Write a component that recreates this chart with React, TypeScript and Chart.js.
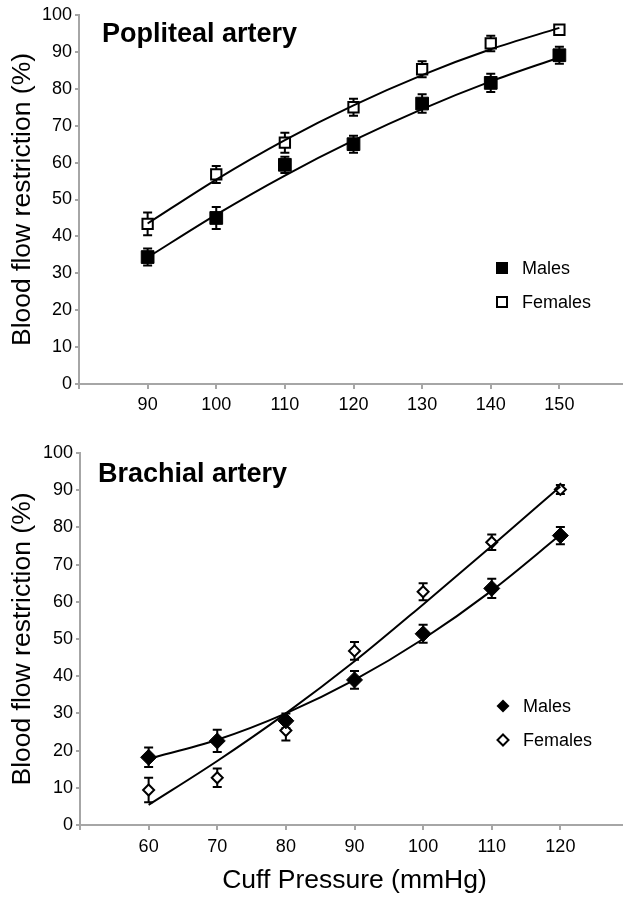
import { useEffect, useRef } from "react";
import { Chart, registerables } from "chart.js";

Chart.register(...registerables);

const FONT = "'Liberation Sans', Arial, Helvetica, sans-serif";
const AXIS_GREY = "#a6a6a6";
const CANVAS_W = 638;

// ---------- Popliteal artery ----------
const popPressure = [90, 100, 110, 120, 130, 140, 150];
const popTickLabels = ["90", "100", "110", "120", "130", "140", "150"];
const popMales = [34.4, 45, 59.4, 65, 76, 81.6, 89.1];
const popMalesErr = [2.3, 3.0, 2.2, 2.3, 2.5, 2.5, 2.3];
const popFemales = [43.4, 56.8, 65.4, 75, 85.3, 92.3, 96];
const popFemalesErr = [3.1, 2.3, 2.7, 2.3, 2.2, 2.1, 1.2];
const popMalesFit = [34.3, 45.9, 56.5, 66, 74.5, 82, 88.5];
const popFemalesFit = [43.5, 55.4, 66.1, 75.5, 83.7, 90.7, 96.5];

// ---------- Brachial artery ----------
const brPressure = [60, 70, 80, 90, 100, 110, 120];
const brTickLabels = ["60", "70", "80", "90", "100", "110", "120"];
const brMales = [18.2, 22.6, 28, 39, 51.4, 63.6, 77.8];
const brMalesErr = [2.6, 3.0, 2.0, 2.4, 2.4, 2.6, 2.3];
const brFemales = [9.4, 12.7, 25.4, 46.8, 62.7, 76, 90.2];
const brFemalesErr = [3.3, 2.5, 2.7, 2.4, 2.3, 2.1, 1.2];
const brMalesFit = [17.8, 22.9, 30, 39, 50, 63, 78];
const brFemalesFit = [5.4, 17.2, 30, 44, 59.3, 75, 91];

const legendLabels = ["Males", "Females"];
const yAxisTitle = "Blood flow restriction (%)";
const xAxisTitle = "Cuff Pressure (mmHg)";

type Shape = "rect" | "rectRot";

interface PanelCfg {
  title: string;
  titleDx: number;
  titleDy: number;
  pressure: number[];
  tickLabels: string[];
  males: number[];
  malesErr: number[];
  females: number[];
  femalesErr: number[];
  malesFit: number[];
  femalesFit: number[];
  shape: Shape;
  height: number;
  padTop: number;
  yWidth: number;
  xHeight: number;
  xTickPad: number;
  xTitle: string | null;
}

function drawMarker(ctx: CanvasRenderingContext2D, shape: Shape, filled: boolean, x: number, y: number) {
  ctx.save();
  ctx.fillStyle = "#000";
  ctx.strokeStyle = "#000";
  ctx.lineWidth = 2;
  if (shape === "rect") {
    if (filled) ctx.fillRect(x - 6, y - 6, 12, 12);
    else ctx.strokeRect(x - 5, y - 5, 10, 10);
  } else {
    const h = filled ? 6.5 : 5.5;
    ctx.beginPath();
    ctx.moveTo(x, y - h);
    ctx.lineTo(x + h, y);
    ctx.lineTo(x, y + h);
    ctx.lineTo(x - h, y);
    ctx.closePath();
    if (filled) ctx.fill();
    else {
      ctx.fillStyle = "#fff";
      ctx.fill();
      ctx.stroke();
    }
  }
  ctx.restore();
}

function makePlugins(cfg: PanelCfg) {
  const errorBars = {
    id: "errorBars",
    beforeDatasetsDraw(chart: any) {
      const { ctx } = chart;
      const xs = chart.scales.x;
      const ys = chart.scales.y;
      chart.data.datasets.forEach((ds: any) => {
        if (!ds.errors) return;
        ctx.save();
        ctx.strokeStyle = "#000";
        ctx.lineWidth = 2;
        ds.data.forEach((p: any, j: number) => {
          const e = ds.errors[j];
          const x = xs.getPixelForValue(p.x);
          const y1 = ys.getPixelForValue(p.y + e);
          const y2 = ys.getPixelForValue(p.y - e);
          ctx.beginPath();
          ctx.moveTo(x, y1);
          ctx.lineTo(x, y2);
          ctx.moveTo(x - 4.5, y1);
          ctx.lineTo(x + 4.5, y1);
          ctx.moveTo(x - 4.5, y2);
          ctx.lineTo(x + 4.5, y2);
          ctx.stroke();
        });
        ctx.restore();
      });
    },
  };
  const panelText = {
    id: "panelText",
    afterDraw(chart: any) {
      const { ctx, chartArea } = chart;
      ctx.save();
      ctx.fillStyle = "#000";
      ctx.font = `bold 27px ${FONT}`;
      ctx.textAlign = "left";
      ctx.textBaseline = "alphabetic";
      ctx.fillText(cfg.title, chartArea.left + cfg.titleDx, chartArea.top + cfg.titleDy);
      // legend
      const lx = chartArea.left + 423;
      const ly = chartArea.top + 253;
      ctx.font = `18px ${FONT}`;
      ctx.textBaseline = "middle";
      legendLabels.forEach((lab, i) => {
        const y = ly + i * 34;
        drawMarker(ctx, cfg.shape, i === 0, lx, y);
        ctx.fillStyle = "#000";
        ctx.fillText(lab, lx + 20, y + 1);
      });
      ctx.restore();
    },
  };
  return [errorBars, panelText];
}

function buildConfig(cfg: PanelCfg): any {
  const pts = (vals: number[]) => cfg.pressure.map((x, i) => ({ x, y: vals[i] }));
  const fitDs = (vals: number[]) => ({
    type: "line",
    data: pts(vals),
    showLine: true,
    borderColor: "#000",
    borderWidth: 2,
    pointRadius: 0,
    fill: false,
    cubicInterpolationMode: "monotone",
    order: 0,
  });
  const isRect = cfg.shape === "rect";
  return {
    type: "scatter",
    data: {
      datasets: [
        fitDs(cfg.malesFit),
        fitDs(cfg.femalesFit),
        {
          label: legendLabels[0],
          data: pts(cfg.males),
          errors: cfg.malesErr,
          showLine: false,
          pointStyle: cfg.shape,
          pointRadius: isRect ? 9 : 8,
          backgroundColor: "#000",
          borderColor: "#000",
          borderWidth: 1,
          order: 1,
        },
        {
          label: legendLabels[1],
          data: pts(cfg.females),
          errors: cfg.femalesErr,
          showLine: false,
          pointStyle: cfg.shape,
          pointRadius: isRect ? 7.3 : 5.5,
          backgroundColor: "#fff",
          borderColor: "#000",
          borderWidth: 2,
          order: 1,
        },
      ],
    },
    options: {
      animation: false,
      responsive: false,
      events: [],
      layout: { padding: { top: cfg.padTop, left: 0, right: 0, bottom: 0 } },
      plugins: { legend: { display: false }, tooltip: { enabled: false }, title: { display: false } },
      scales: {
        x: {
          type: "linear",
          min: cfg.pressure[0] - 10,
          max: cfg.pressure[cfg.pressure.length - 1] + 10,
          ticks: {
            stepSize: 10,
            autoSkip: false,
            maxRotation: 0,
            color: "#000",
            font: { family: FONT, size: 18 },
            padding: cfg.xTickPad,
            callback: (v: number) => {
              const i = cfg.pressure.indexOf(v);
              return i >= 0 ? cfg.tickLabels[i] : "";
            },
          },
          grid: { drawOnChartArea: false, drawTicks: true, tickLength: 5, color: AXIS_GREY, lineWidth: 2 },
          border: { display: true, color: AXIS_GREY, width: 2 },
          title: cfg.xTitle
            ? { display: true, text: cfg.xTitle, color: "#000", font: { family: FONT, size: 26.5 }, padding: { top: 0, bottom: 0 } }
            : { display: false },
          afterFit: (s: any) => {
            s.height = cfg.xHeight;
          },
        },
        y: {
          type: "linear",
          min: 0,
          max: 100,
          ticks: { stepSize: 10, color: "#000", font: { family: FONT, size: 18 }, padding: 3 },
          grid: { drawOnChartArea: false, drawTicks: true, tickLength: 4, color: AXIS_GREY, lineWidth: 2 },
          border: { display: true, color: AXIS_GREY, width: 2 },
          title: { display: true, text: yAxisTitle, color: "#000", font: { family: FONT, size: 26.5 }, padding: { top: 7, bottom: 0 } },
          afterFit: (s: any) => {
            s.width = cfg.yWidth;
          },
        },
      },
    },
    plugins: makePlugins(cfg),
  };
}

const topPanel: PanelCfg = {
  title: "Popliteal artery",
  titleDx: 23,
  titleDy: 27,
  pressure: popPressure,
  tickLabels: popTickLabels,
  males: popMales,
  malesErr: popMalesErr,
  females: popFemales,
  femalesErr: popFemalesErr,
  malesFit: popMalesFit,
  femalesFit: popFemalesFit,
  shape: "rect",
  height: 430,
  padTop: 15,
  yWidth: 79,
  xHeight: 46,
  xTickPad: 5,
  xTitle: null,
};

const bottomPanel: PanelCfg = {
  title: "Brachial artery",
  titleDx: 18,
  titleDy: 29,
  pressure: brPressure,
  tickLabels: brTickLabels,
  males: brMales,
  malesErr: brMalesErr,
  females: brFemales,
  femalesErr: brFemalesErr,
  malesFit: brMalesFit,
  femalesFit: brFemalesFit,
  shape: "rectRot",
  height: 467,
  padTop: 23,
  yWidth: 80,
  xHeight: 72,
  xTickPad: 6,
  xTitle: xAxisTitle,
};

function Panel({ cfg }: { cfg: PanelCfg }) {
  const ref = useRef<HTMLCanvasElement | null>(null);
  useEffect(() => {
    if (!ref.current) return;
    const chart = new Chart(ref.current, buildConfig(cfg));
    return () => chart.destroy();
  }, [cfg]);
  return (
    <canvas
      ref={ref}
      width={CANVAS_W}
      height={cfg.height}
      style={{ display: "block", width: CANVAS_W, height: cfg.height }}
    />
  );
}

export default function App() {
  return (
    <div
      style={{
        position: "fixed",
        left: 0,
        top: 0,
        width: 623,
        height: 897,
        overflow: "hidden",
        background: "#fff",
      }}
    >
      <Panel cfg={topPanel} />
      <Panel cfg={bottomPanel} />
    </div>
  );
}
